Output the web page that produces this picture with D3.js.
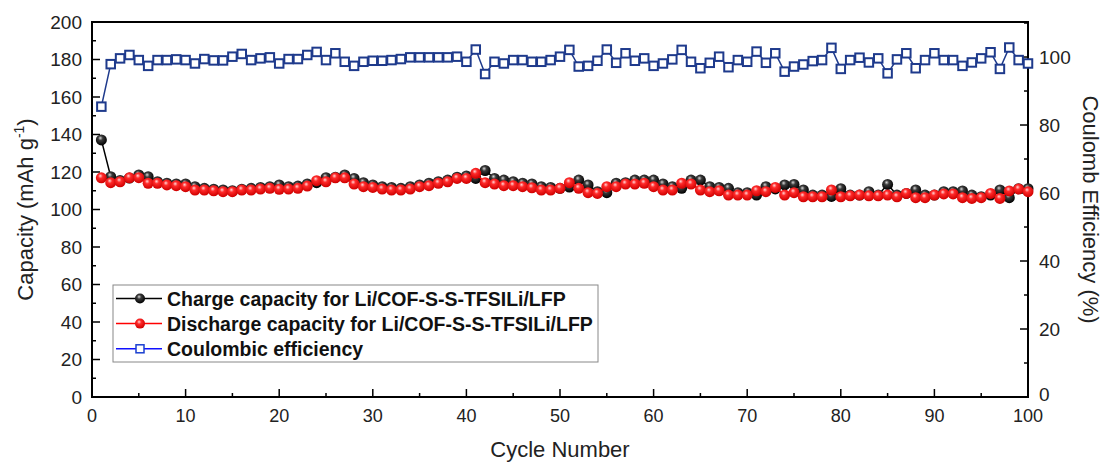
<!DOCTYPE html>
<html>
<head>
<meta charset="utf-8">
<script src="https://cdn.jsdelivr.net/npm/d3@7"></script>
<style>
  html, body { margin: 0; padding: 0; background: #fff; }
  svg { display: block; font-family: "Liberation Sans", Arial, sans-serif; }
</style>
</head>
<body>
<svg id="chart" width="1105" height="464"></svg>
<script>
// Cycle index 1..100
const cycles = d3.range(1, 101);

// Charge capacity (mAh g-1)
const chargeCapacity = [
  137.1, 117.5, 115.5, 116.8, 118.4, 117.5, 114.8, 114.0, 113.6, 113.6,
  112.2, 111.3, 110.8, 110.4, 110.0, 110.8, 111.3, 111.8, 112.2, 113.1,
  112.2, 112.5, 113.6, 114.3, 117.0, 117.2, 118.4, 116.6, 114.3, 113.1,
  112.2, 111.8, 111.3, 112.2, 113.1, 114.0, 114.8, 115.7, 117.2, 117.9,
  116.6, 120.8, 116.6, 115.7, 114.8, 114.0, 113.6, 112.2, 111.8, 111.3,
  112.0, 115.7, 113.1, 109.5, 109.0, 114.0, 114.3, 115.7, 115.7, 115.7,
  113.6, 112.2, 111.3, 115.7, 115.7, 112.2, 111.8, 111.3, 109.0, 109.0,
  107.7, 112.2, 111.0, 113.1, 113.4, 110.4, 107.7, 107.7, 107.0, 111.1,
  107.7, 107.7, 109.5, 107.7, 113.4, 107.7, 108.6, 110.4, 107.7, 107.7,
  109.5, 109.5, 109.9, 107.7, 106.8, 107.7, 110.4, 106.3, 111.1, 111.1
];

// Discharge capacity (mAh g-1)
const dischargeCapacity = [
  116.9, 114.3, 114.8, 116.9, 117.0, 114.0, 114.0, 113.1, 112.7, 112.2,
  110.4, 110.4, 110.0, 109.5, 109.5, 110.4, 110.4, 110.9, 111.3, 110.8,
  110.9, 111.3, 112.5, 115.4, 114.8, 116.9, 116.9, 113.6, 112.2, 111.8,
  110.9, 110.4, 110.4, 110.9, 112.2, 112.7, 114.0, 114.8, 116.6, 116.6,
  119.3, 114.3, 113.6, 112.7, 112.7, 112.2, 111.6, 110.4, 110.4, 111.3,
  114.3, 111.3, 109.0, 108.6, 112.2, 112.2, 113.6, 113.6, 114.0, 112.2,
  110.4, 110.4, 114.0, 113.6, 110.4, 109.5, 110.0, 107.7, 107.7, 107.7,
  110.0, 109.5, 111.8, 107.7, 109.0, 106.8, 106.8, 106.8, 110.4, 106.8,
  107.3, 107.7, 107.3, 107.3, 107.7, 106.8, 108.6, 106.3, 106.3, 107.7,
  108.3, 108.3, 106.3, 105.9, 106.3, 108.6, 105.9, 109.9, 110.9, 109.5
];

// Coulombic efficiency (%)
const coulombicEfficiency = [
  85.4, 97.9, 99.6, 100.6, 99.1, 97.4, 99.1, 99.1, 99.3, 99.1,
  98.1, 99.4, 99.0, 99.0, 100.1, 100.9, 99.1, 99.6, 99.9, 98.1,
  99.4, 99.4, 100.6, 101.5, 99.1, 101.1, 98.6, 97.4, 98.6, 98.9,
  98.9, 99.1, 99.4, 99.9, 99.9, 99.9, 99.9, 99.9, 100.1, 98.6,
  102.2, 95.0, 98.6, 98.1, 99.1, 99.1, 98.6, 98.6, 99.1, 100.1,
  102.1, 97.2, 97.4, 98.9, 102.2, 98.3, 101.1, 98.9, 99.6, 97.4,
  98.1, 99.3, 102.1, 98.6, 96.7, 98.3, 100.1, 97.0, 99.1, 98.6,
  101.6, 98.3, 101.1, 95.7, 97.2, 97.8, 98.8, 99.1, 102.7, 96.5,
  99.1, 99.8, 98.4, 99.6, 95.2, 99.3, 101.1, 96.7, 99.1, 101.1,
  99.1, 99.1, 97.4, 98.4, 99.6, 101.4, 96.5, 102.8, 99.1, 98.1
];

// Tick values
const xTicks = [0, 10, 20, 30, 40, 50, 60, 70, 80, 90, 100];
const leftTicks = [0, 20, 40, 60, 80, 100, 120, 140, 160, 180, 200];
const rightTicks = [0, 20, 40, 60, 80, 100];

const legendLabels = [
  "Charge capacity for Li/COF-S-S-TFSILi/LFP",
  "Discharge capacity for Li/COF-S-S-TFSILi/LFP",
  "Coulombic efficiency"
];

const svg = d3.select("#chart");
const plot = { left: 92, right: 1028, top: 22, bottom: 397 };

const x = d3.scaleLinear().domain([0, 100]).range([plot.left, plot.right]);
const yL = d3.scaleLinear().domain([0, 200]).range([plot.bottom, plot.top]);
const yR = d3.scaleLinear().domain([0, 110.3]).range([plot.bottom, plot.top]);

// Sphere-like gradients for the capacity markers
const defs = svg.append("defs");
function sphere(id, hi, mid, lo) {
  const g = defs.append("radialGradient").attr("id", id)
    .attr("cx", "45%").attr("cy", "38%").attr("r", "60%")
    .attr("fx", "40%").attr("fy", "32%");
  g.append("stop").attr("offset", "0%").attr("stop-color", hi);
  g.append("stop").attr("offset", "35%").attr("stop-color", mid);
  g.append("stop").attr("offset", "100%").attr("stop-color", lo);
}
sphere("ballBlack", "#d8d8d8", "#3a3a3a", "#000000");
sphere("ballRed", "#ffd6d6", "#ff2a2a", "#d00000");

const tickColor = "#222";
const labelSize = "19px";
const titleSize = "22px";

// Axes (ticks point inward)
const gx = svg.append("g").attr("transform", `translate(0,${plot.bottom})`);
gx.selectAll("line").data(x.ticks(20)).join("line")
  .attr("x1", d => x(d)).attr("x2", d => x(d))
  .attr("y1", 0).attr("y2", d => d % 10 === 0 ? -8 : -4)
  .attr("stroke", "#000").attr("stroke-width", 1.5);
gx.selectAll("text").data(xTicks).join("text")
  .attr("x", d => x(d)).attr("y", 25)
  .attr("text-anchor", "middle")
  .attr("font-size", "18px").attr("fill", tickColor)
  .text(d => d);

const gl = svg.append("g").attr("transform", `translate(${plot.left},0)`);
gl.selectAll("line").data(yL.ticks(20)).join("line")
  .attr("y1", d => yL(d)).attr("y2", d => yL(d))
  .attr("x1", 0).attr("x2", d => d % 20 === 0 ? 8 : 4)
  .attr("stroke", "#000").attr("stroke-width", 1.5);
gl.selectAll("text").data(leftTicks).join("text")
  .attr("x", -10).attr("y", d => yL(d)).attr("dy", "0.35em")
  .attr("text-anchor", "end")
  .attr("font-size", labelSize).attr("fill", tickColor)
  .text(d => d);

const gr = svg.append("g").attr("transform", `translate(${plot.right},0)`);
gr.selectAll("line").data(d3.range(0, 111, 10)).join("line")
  .attr("y1", d => yR(d)).attr("y2", d => yR(d))
  .attr("x1", 0).attr("x2", d => d % 20 === 0 ? -8 : -4)
  .attr("stroke", "#000").attr("stroke-width", 1.5);
gr.selectAll("text").data(rightTicks).join("text")
  .attr("x", 11).attr("y", d => yR(d)).attr("dy", d => d === 0 ? "0.2em" : "0.35em")
  .attr("text-anchor", "start")
  .attr("font-size", labelSize).attr("fill", tickColor)
  .text(d => d);

// Frame
svg.append("rect")
  .attr("x", plot.left).attr("y", plot.top)
  .attr("width", plot.right - plot.left).attr("height", plot.bottom - plot.top)
  .attr("fill", "none").attr("stroke", "#000").attr("stroke-width", 2);

// Axis titles
const yTitle = svg.append("text")
  .attr("transform", `translate(33,${(plot.top + plot.bottom) / 2}) rotate(-90)`)
  .attr("text-anchor", "middle").attr("font-size", titleSize).attr("fill", tickColor);
yTitle.append("tspan").text("Capacity (mAh g");
yTitle.append("tspan").attr("font-size", "14px").attr("dy", "-9").text("-1");
yTitle.append("tspan").attr("dy", "9").text(")");

svg.append("text")
  .attr("transform", `translate(1083,${(plot.top + plot.bottom) / 2}) rotate(90)`)
  .attr("text-anchor", "middle").attr("font-size", titleSize).attr("fill", tickColor)
  .text("Coulomb Efficiency (%)");

svg.append("text")
  .attr("x", (plot.left + plot.right) / 2).attr("y", 457)
  .attr("text-anchor", "middle").attr("font-size", titleSize).attr("fill", tickColor)
  .text("Cycle Number");

// Series
const ceColor = "#1e3a8c";
const ceData = cycles.map((c, i) => [c, coulombicEfficiency[i]]);
const chData = cycles.map((c, i) => [c, chargeCapacity[i]]);
const dcData = cycles.map((c, i) => [c, dischargeCapacity[i]]);

const ceLine = d3.line().x(d => x(d[0])).y(d => yR(d[1]));
const capLine = d3.line().x(d => x(d[0])).y(d => yL(d[1]));

svg.append("path").datum(ceData).attr("d", ceLine)
  .attr("fill", "none").attr("stroke", ceColor).attr("stroke-width", 1.5);
const sq = 8.5;
svg.append("g").selectAll("rect").data(ceData).join("rect")
  .attr("x", d => x(d[0]) - sq / 2).attr("y", d => yR(d[1]) - sq / 2)
  .attr("width", sq).attr("height", sq)
  .attr("fill", "#fff").attr("stroke", ceColor).attr("stroke-width", 2);

svg.append("path").datum(chData).attr("d", capLine)
  .attr("fill", "none").attr("stroke", "#000").attr("stroke-width", 1.5);
svg.append("g").selectAll("circle").data(chData).join("circle")
  .attr("cx", d => x(d[0])).attr("cy", d => yL(d[1])).attr("r", 5.5)
  .attr("fill", "url(#ballBlack)");

svg.append("path").datum(dcData).attr("d", capLine)
  .attr("fill", "none").attr("stroke", "#ff0000").attr("stroke-width", 1.5);
svg.append("g").selectAll("circle").data(dcData).join("circle")
  .attr("cx", d => x(d[0])).attr("cy", d => yL(d[1])).attr("r", 5.5)
  .attr("fill", "url(#ballRed)");

// Legend
const lg = svg.append("g").attr("transform", "translate(113,285)");
lg.append("rect").attr("width", 485).attr("height", 77)
  .attr("fill", "#fff").attr("stroke", "#888").attr("stroke-width", 1);
const rows = [
  { y: 13.5, color: "#000", mark: "ball", fill: "url(#ballBlack)" },
  { y: 38.6, color: "#ff0000", mark: "ball", fill: "url(#ballRed)" },
  { y: 63.8, color: "#1010ff", mark: "square" }
];
rows.forEach((r, i) => {
  lg.append("line").attr("x1", 3).attr("x2", 49).attr("y1", r.y).attr("y2", r.y)
    .attr("stroke", r.color).attr("stroke-width", 1.5);
  if (r.mark === "ball") {
    lg.append("circle").attr("cx", 27).attr("cy", r.y).attr("r", 5).attr("fill", r.fill);
  } else {
    lg.append("rect").attr("x", 23).attr("y", r.y - 4).attr("width", 8).attr("height", 8)
      .attr("fill", "#fff").attr("stroke", "#1a3fd0").attr("stroke-width", 1.5);
  }
  lg.append("text").attr("x", 54).attr("y", r.y).attr("dy", "0.36em")
    .attr("font-size", "19.5px").attr("font-weight", "bold").attr("fill", "#111")
    .text(legendLabels[i]);
});
</script>
</body>
</html>
